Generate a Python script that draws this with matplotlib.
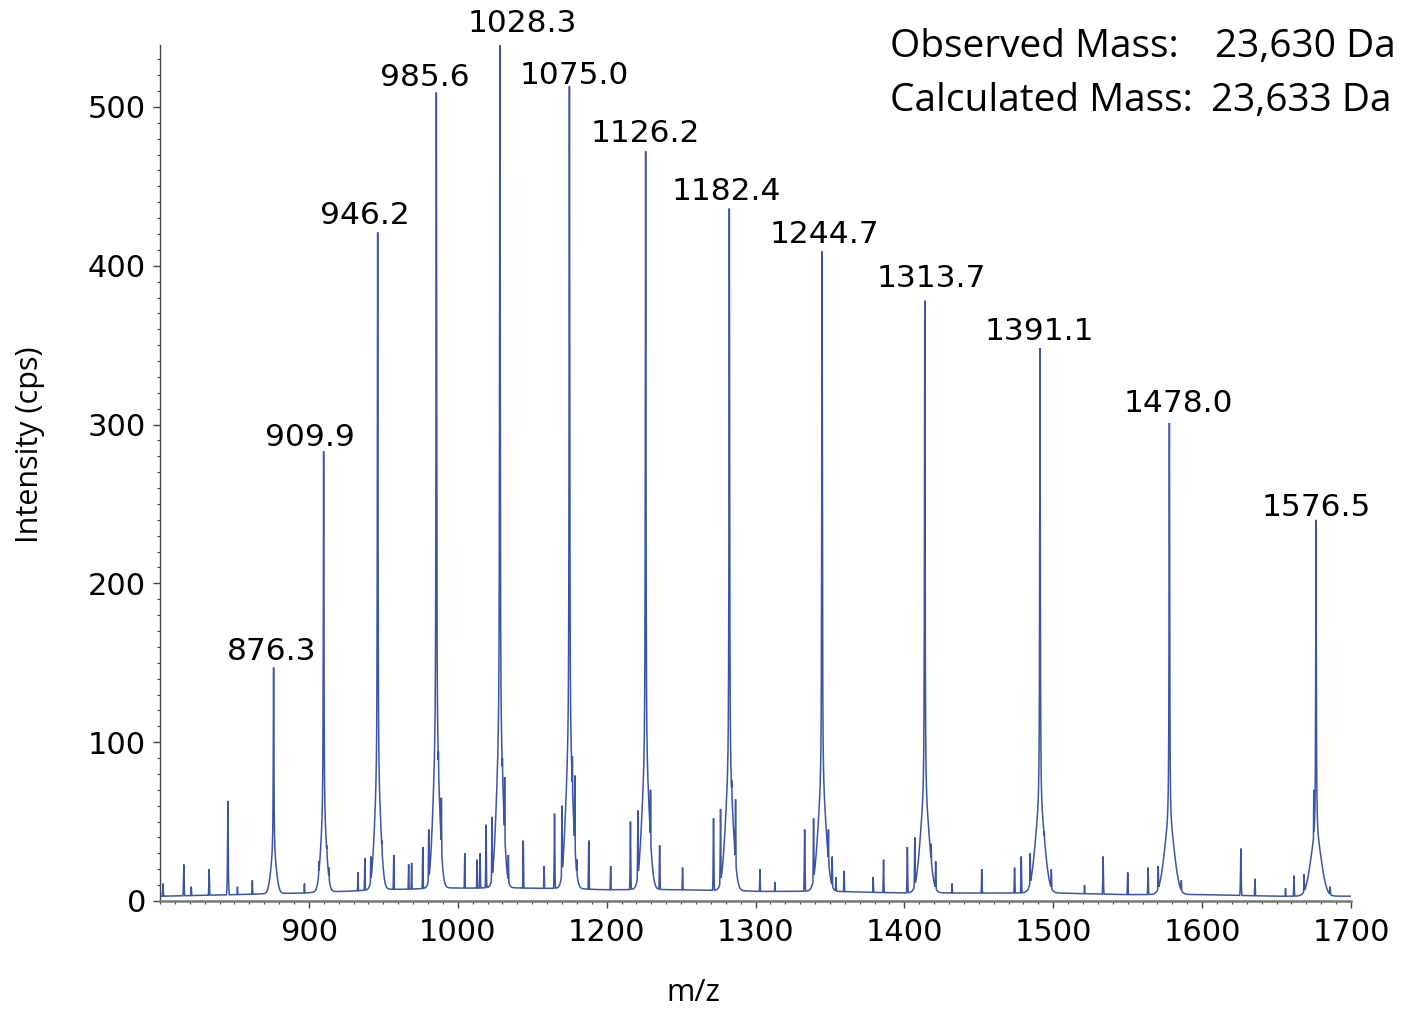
import numpy as np
import matplotlib
matplotlib.use("Agg")
import matplotlib.pyplot as plt
from matplotlib.ticker import FixedLocator, MultipleLocator

# ---------------- data ----------------
# main charge-state peaks: labelled m/z and apex intensity (cps)
peak_mz = [876.3, 909.9, 946.2, 985.6, 1028.3, 1075.0, 1126.2, 1182.4,
           1244.7, 1313.7, 1391.1, 1478.0, 1576.5]
peak_int = [147, 283, 421, 509, 539, 513, 472, 436, 409, 378, 348, 301, 240]
# broad foot under each main peak (height above baseline, sigma in m/z)
foot_int = [22, 40, 60, 80, 85, 82, 72, 66, 60, 55, 50, 42, 36]
foot_sigma = [1.9, 2.0, 2.1, 2.2, 2.3, 2.4, 2.5, 2.6, 2.8, 3.0, 3.2, 3.4, 3.6]
peak_labels = ["876.3", "909.9", "946.2", "985.6", "1028.3", "1075.0", "1126.2",
               "1182.4", "1244.7", "1313.7", "1391.1", "1478.0", "1576.5"]

# minor spikes / shoulders: m/z and apex intensity (cps)
minor_mz = [802, 816, 821, 833, 845.6, 852, 862, 877.2, 897, 906.7, 912, 913.5,
            933, 937.6, 941.6, 945.4, 949, 957, 967, 969, 976.5, 980.5, 984.4,
            987, 989, 1004.7, 1013, 1015, 1019, 1023, 1030, 1031.5, 1034, 1044,
            1058, 1065, 1070, 1077, 1078.6, 1080, 1088, 1102.7, 1116, 1121,
            1125, 1129.5, 1135.6, 1151, 1171.8, 1176.5, 1184, 1186.6, 1203,
            1213, 1233, 1239, 1243.6, 1246, 1249, 1251.5, 1254, 1259.5, 1279,
            1286, 1302, 1307, 1315.4, 1318, 1321, 1332, 1352, 1374, 1378.5,
            1384.5, 1392.6, 1394, 1398.7, 1421, 1433.5, 1450, 1463.7, 1470.5,
            1480.5, 1486, 1526, 1535.5, 1556, 1561.7, 1568.5, 1575, 1579, 1586]
minor_int = [11, 23, 9, 20, 63, 9, 13, 23, 11, 25, 35, 21,
             18, 27, 28, 58, 38, 29, 23, 24, 34, 45, 76,
             94, 65, 30, 26, 30, 48, 53, 90, 78, 29, 38,
             22, 55, 60, 91, 79, 26, 38, 22, 50, 57,
             69, 70, 35, 21, 52, 58, 76, 64, 20,
             12, 45, 52, 52, 58, 45, 28, 15, 19, 15,
             26, 34, 40, 56, 36, 25, 11, 20, 21, 28,
             30, 54, 44, 20, 10, 28, 18, 21, 22,
             37, 13, 33, 14, 8, 16, 17, 70, 27, 9]

# baseline level read at a few m/z values
base_mz = [800, 850, 900, 950, 1000, 1050, 1100, 1150, 1200, 1250, 1300,
           1350, 1400, 1450, 1500, 1550, 1600]
base_int = [3, 4, 5, 7, 8, 8, 7, 7, 6, 6, 5, 5, 5, 4, 4, 3, 3]

xtick_pos = [900, 1000, 1100, 1200, 1300, 1400, 1500, 1600]
xtick_text = ["900", "1000", "1200", "1300", "1400", "1500", "1600", "1700"]
ytick_pos = [0, 100, 200, 300, 400, 500]

# label offsets (pixels) relative to each peak apex
label_dx = [-2, -14, -13, -11, 22, 5, 0, -3, 2, 6, -1, 9, 0]
label_dy = [16, 14, 17, 15, 21, 11, 18, 17, 17, 22, 17, 19, 12]

# ---------------- build the profile trace ----------------
mz = np.arange(800.0, 1600.0001, 0.02)
hw = 0.25  # half width of narrow peaks


def lor(x, c, h):
    return h / (1.0 + ((x - c) / hw) ** 2)


base = np.interp(mz, base_mz, base_int)
trace = base.copy()
for c, h, fh, fs in zip(peak_mz, peak_int, foot_int, foot_sigma):
    b0 = np.interp(c, base_mz, base_int)
    trace += fh * np.exp(-0.5 * ((mz - c) / fs) ** 2)
    trace += lor(mz, c, h - fh - b0)
for c, h in zip(minor_mz, minor_int):
    trace = np.maximum(trace, lor(mz, c, h))

# ---------------- figure ----------------
W, H = 1401, 1010
fig = plt.figure(figsize=(W / 100, H / 100), dpi=100)
ax = fig.add_axes([160 / W, 1 - 901 / H, (1351 - 160) / W, (901 - 45) / H])

ax.plot(mz, trace, color="#3b55a6", lw=1.1, solid_joinstyle="miter")
ax.set_xlim(800, 1600)
ax.set_ylim(0, 539)

for c, h, t, dx, dy in zip(peak_mz, peak_int, peak_labels, label_dx, label_dy):
    ax.annotate(t, xy=(c, h), xytext=(dx, dy), textcoords="offset pixels",
                ha="center", va="center", fontsize=22.5, family="DejaVu Sans",
                color="black", annotation_clip=False)

for s in ["top", "right"]:
    ax.spines[s].set_visible(False)
ax.spines["left"].set_color("#444444")
ax.spines["left"].set_linewidth(1.0)
ax.spines["bottom"].set_color("#777777")
ax.spines["bottom"].set_linewidth(1.8)

ax.xaxis.set_major_locator(FixedLocator(xtick_pos))
ax.set_xticklabels(xtick_text)
ax.xaxis.set_minor_locator(MultipleLocator(10))
ax.yaxis.set_major_locator(FixedLocator(ytick_pos))
ax.yaxis.set_minor_locator(MultipleLocator(10))
ax.tick_params(axis="both", which="major", labelsize=22, length=5, width=1.0,
               color="#444444", pad=5)
ax.tick_params(axis="x", which="major", pad=7)
ax.tick_params(axis="both", which="minor", length=2.5, width=0.8, color="#444444")
for lab in ax.get_xticklabels() + ax.get_yticklabels():
    lab.set_family("DejaVu Sans")

fig.text(693 / W, 1 - 993 / H, "m/z", fontsize=22, family="Open Sans",
         ha="center", va="center")
fig.text(30 / W, 1 - 445 / H, "Intensity (cps)", fontsize=22, family="Open Sans",
         ha="center", va="center", rotation=90)

fs_box = 28
fig.text(890 / W, 1 - 47 / H, "Observed Mass:", fontsize=fs_box, family="Open Sans",
         ha="left", va="center")
fig.text(1215 / W, 1 - 47 / H, "23,630 Da", fontsize=fs_box, family="Open Sans",
         ha="left", va="center")
fig.text(890 / W, 1 - 101 / H, "Calculated Mass:", fontsize=fs_box, family="Open Sans",
         ha="left", va="center")
fig.text(1211 / W, 1 - 101 / H, "23,633 Da", fontsize=fs_box, family="Open Sans",
         ha="left", va="center")

fig.savefig("out.png", dpi=100)
